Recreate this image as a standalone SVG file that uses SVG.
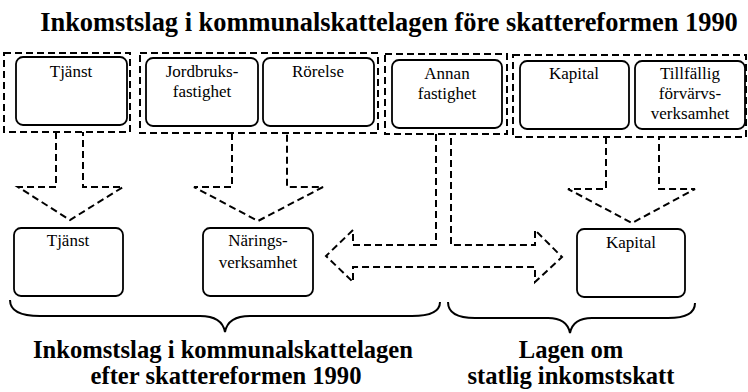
<svg xmlns="http://www.w3.org/2000/svg" width="748" height="392" viewBox="0 0 748 392">
<style>
  .bg { fill: #ffffff; }
  .box { fill: #ffffff; stroke: #000; stroke-width: 1.8; }
  .grp { fill: none; stroke: #000; stroke-width: 2; stroke-dasharray: 7 4; }
  .arr { fill: none; stroke: #000; stroke-width: 2; stroke-dasharray: 7 4; stroke-linejoin: miter; }
  .brace { fill: none; stroke: #000; stroke-width: 2; }
  .lbl { font-family: "Liberation Serif", "Times New Roman", serif; font-size: 17px; fill: #000; text-anchor: middle; }
  .big { font-family: "Liberation Serif", "Times New Roman", serif; font-weight: bold; font-size: 24.6px; fill: #000; text-anchor: middle; }
  .title { font-family: "Liberation Serif", "Times New Roman", serif; font-weight: bold; font-size: 26.4px; fill: #000; text-anchor: middle; }
</style>
<rect class="bg" x="0" y="0" width="748" height="392"/>

<g id="title">
  <text class="title" x="389" y="31">Inkomstslag i kommunalskattelagen före skattereformen 1990</text>
</g>

<g id="group-tjanst">
  <rect class="grp" x="4" y="53" width="126" height="79"/>
</g>
<g id="group-naring">
  <rect class="grp" x="140" y="53" width="238" height="80"/>
</g>
<g id="group-annan">
  <rect class="grp" x="385" y="54" width="122" height="80"/>
</g>
<g id="group-kapital">
  <rect class="grp" x="513" y="55" width="233" height="82"/>
</g>

<g id="old-tjanst">
  <rect class="box" x="16" y="57" width="111" height="68" rx="7"/>
  <text class="lbl" x="71" y="77">Tjänst</text>
</g>
<g id="old-jordbruk">
  <rect class="box" x="146" y="58" width="112" height="68" rx="7"/>
  <text class="lbl" x="202" y="77">Jordbruks-</text>
  <text class="lbl" x="202" y="97">fastighet</text>
</g>
<g id="old-rorelse">
  <rect class="box" x="263" y="58" width="111" height="68" rx="7"/>
  <text class="lbl" x="318" y="77">Rörelse</text>
</g>
<g id="old-annan">
  <rect class="box" x="392" y="60" width="110" height="68" rx="7"/>
  <text class="lbl" x="447" y="79">Annan</text>
  <text class="lbl" x="447" y="99">fastighet</text>
</g>
<g id="old-kapital">
  <rect class="box" x="520" y="61" width="109" height="68" rx="7"/>
  <text class="lbl" x="574" y="79">Kapital</text>
</g>
<g id="old-tillfallig">
  <rect class="box" x="635" y="61" width="110" height="68" rx="7"/>
  <text class="lbl" x="690" y="79">Tillfällig</text>
  <text class="lbl" x="690" y="99">förvärvs-</text>
  <text class="lbl" x="690" y="119">verksamhet</text>
</g>

<g id="new-tjanst">
  <rect class="box" x="14" y="228" width="109" height="68" rx="7"/>
  <text class="lbl" x="68" y="246">Tjänst</text>
</g>
<g id="new-naring">
  <rect class="box" x="203" y="228" width="110" height="68" rx="7"/>
  <text class="lbl" x="258" y="246">Närings-</text>
  <text class="lbl" x="258" y="268">verksamhet</text>
</g>
<g id="new-kapital">
  <rect class="box" x="577" y="229" width="108" height="68" rx="7"/>
  <text class="lbl" x="631" y="248">Kapital</text>
</g>

<g id="connectors">
  <path class="arr" d="M56,132 V187 H18 L70,220 L123,187 H83 V132"/>
  <path class="arr" d="M232,133 V187 H194 L258,221 L323,187 H287 V134"/>
  <path class="arr" d="M606,137 V189 H568 L632,223 L695,189 H659 V137"/>
  <path class="arr" d="M436,134 V245 H353 V230 L326,256 L353,282 V267 H535 V282 L562,257 L535,230 V245 H451 V134"/>
</g>

<g id="braces">
  <path class="brace" d="M10,300 Q10,316 40,316 L200,316 Q222,316 225,332 Q228,316 250,316 L412,316 Q440,316 440,302"/>
  <path class="brace" d="M448,302 Q448,318 475,318 L548,318 Q567,318 570,333 Q573,318 592,318 L668,318 Q695,318 695,303"/>
</g>

<g id="captions">
  <text class="big" x="223" y="358">Inkomstslag i kommunalskattelagen</text>
  <text class="big" x="226" y="384">efter skattereformen 1990</text>
  <text class="big" x="571" y="358">Lagen om</text>
  <text class="big" x="571" y="384">statlig inkomstskatt</text>
</g>
</svg>
